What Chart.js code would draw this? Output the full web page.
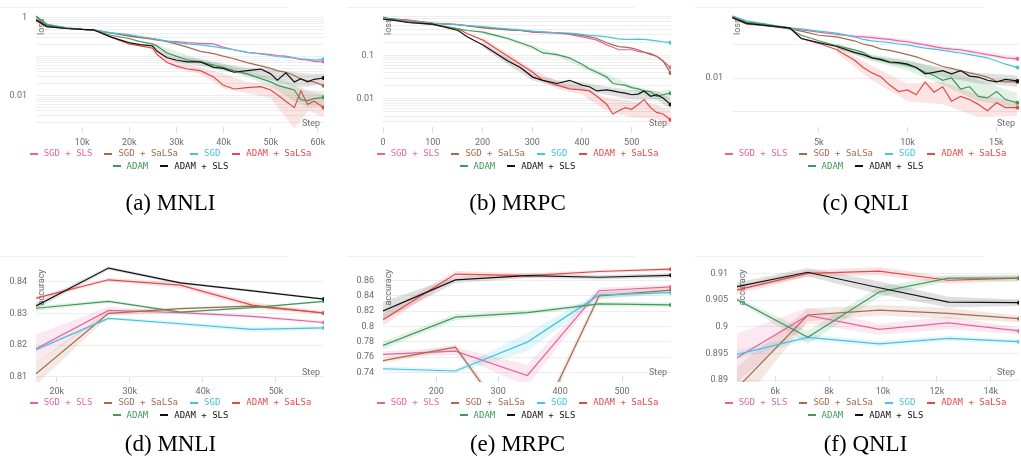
<!DOCTYPE html>
<html>
<head>
<meta charset="utf-8">
<script src="https://cdn.jsdelivr.net/npm/chart.js@4.4.1/dist/chart.umd.min.js"></script>
<style>
  html, body { margin: 0; padding: 0; background: #fff; }
  body { width: 1021px; height: 464px; overflow: hidden; position: relative; }
  .panel { position: absolute; width: 347px; height: 180px; }
  .panel canvas { position: absolute; left: 0; top: 0; }
  .rule { position: absolute; top: 7px; left: 3px; width: 288px; height: 1px; background: #f0f0f0; }
  .legend { position: absolute; top: 147px; left: 18px; width: 311px; display: flex; flex-wrap: wrap;
            justify-content: center; column-gap: 12px; font: 9px "DejaVu Sans Mono", monospace;
            line-height: 12.5px; white-space: nowrap; }
  .legend i { display: inline-block; width: 8px; height: 2px; margin-right: 6px; vertical-align: middle; }
  .caption { position: absolute; width: 347px; text-align: center; font: 23px/23px "Liberation Serif", serif; color: #000; }
</style>
</head>
<body>

<script>
const seriesNames = ['SGD + SLS', 'SGD + SaLSa', 'SGD', 'ADAM + SaLSa', 'ADAM', 'ADAM + SLS'];
const seriesColors = ['#e7649b', '#a8694d', '#45c3e0', '#e34a4a', '#3f9a5a', '#111111'];

// (a) MNLI loss
const aSteps = [200, 2500, 6700, 10000, 12400, 16000, 19900, 22300, 24900, 25900, 28000, 29900, 32300, 35100,
  37900, 39900, 42200, 45000, 47900, 50000, 51400, 53200, 55000, 56400, 57800, 59200, 61200];
const aSgdSls = [1.04, 0.658, 0.534, 0.495, 0.485, 0.401, 0.351, 0.307, 0.274, 0.264, 0.249, 0.240, 0.227, 0.218,
  0.210, 0.174, 0.149, 0.128, 0.119, 0.112, 0.106, 0.102, 0.0909, 0.0843, 0.0811, 0.0752, 0.0738];
const aSgdSalsa = [0.909, 0.621, 0.524, 0.495, 0.476, 0.401, 0.332, 0.307, 0.290, 0.274, 0.240, 0.210, 0.174, 0.136,
  0.119, 0.102, 0.0875, 0.0697, 0.0576, 0.0494, 0.0433, 0.0394, 0.0326, 0.0259, 0.0235, 0.0222, 0.0177];
const aSgd = [1.10, 0.683, 0.544, 0.504, 0.485, 0.409, 0.365, 0.326, 0.290, 0.274, 0.249, 0.227, 0.210, 0.198,
  0.180, 0.164, 0.149, 0.128, 0.116, 0.106, 0.100, 0.0963, 0.0927, 0.0875, 0.0843, 0.0811, 0.0843];
const aAdamSalsa = [0.827, 0.587, 0.524, 0.495, 0.485, 0.319, 0.210, 0.187, 0.164, 0.112, 0.0697, 0.0576, 0.0476, 0.0433,
  0.0296, 0.0184, 0.0146, 0.0158, 0.0167, 0.0138, 0.0104, 0.00710, 0.00485, 0.0131, 0.00587, 0.00710, 0.00485];
const aAdam = [1.08, 0.646, 0.534, 0.495, 0.476, 0.351, 0.290, 0.240, 0.210, 0.187, 0.123, 0.102, 0.0811, 0.0724,
  0.0598, 0.0524, 0.0433, 0.0358, 0.0269, 0.0222, 0.0184, 0.0158, 0.0138, 0.00781, 0.00738, 0.00827, 0.00892];
const aAdamSls = [0.875, 0.587, 0.524, 0.495, 0.485, 0.319, 0.227, 0.202, 0.187, 0.136, 0.0927, 0.0811, 0.0724, 0.0724,
  0.0524, 0.0494, 0.0394, 0.0433, 0.0476, 0.0358, 0.0245, 0.0379, 0.0222, 0.0269, 0.0222, 0.0259, 0.0280];
const aBandSteps = [25000, 30000, 35000, 40000, 45000, 50000, 55000, 58000, 61300];
const aAdamSalsaHi = [0.180, 0.0766, 0.0524, 0.0358, 0.0222, 0.0184, 0.0167, 0.0126, 0.0104];
const aAdamSalsaLo = [0.149, 0.0476, 0.0358, 0.0152, 0.0114, 0.00859, 0.00141, 0.00401, 0.00274];
const aAdamHi = [0.227, 0.136, 0.0843, 0.0658, 0.0433, 0.0296, 0.0184, 0.0138, 0.0126];
const aAdamLo = [0.198, 0.102, 0.0633, 0.0476, 0.0296, 0.0167, 0.0071, 0.00485, 0.00534];
const aAdamSlsHi = [0.210, 0.102, 0.0843, 0.0633, 0.0524, 0.0476, 0.0394, 0.0358, 0.0358];
const aAdamSlsLo = [0.174, 0.0697, 0.0576, 0.0433, 0.0326, 0.0245, 0.0167, 0.0167, 0.0202];
const aTicks = [10000, 20000, 30000, 40000, 50000, 60000];

// (b) MRPC loss
const bSteps = [0, 20, 50, 100, 151, 170, 201, 226, 251, 276, 301, 321, 350, 375, 400, 415, 430, 450, 462, 474,
  487, 500, 513, 525, 538, 550, 563, 578];
const bSgdSls = [0.723, 0.687, 0.653, 0.550, 0.514, 0.489, 0.449, 0.426, 0.398, 0.378, 0.347, 0.336, 0.330, 0.308,
  0.269, 0.247, 0.227, 0.176, 0.156, 0.136, 0.136, 0.136, 0.125, 0.119, 0.105, 0.0966, 0.0748, 0.0532];
const bSgdSalsa = [0.723, 0.699, 0.653, 0.560, 0.514, 0.480, 0.434, 0.412, 0.391, 0.378, 0.353, 0.347, 0.336, 0.319,
  0.293, 0.269, 0.247, 0.198, 0.176, 0.161, 0.156, 0.148, 0.136, 0.119, 0.111, 0.0966, 0.0748, 0.0398];
const bSgd = [0.723, 0.687, 0.631, 0.550, 0.514, 0.489, 0.464, 0.434, 0.412, 0.391, 0.366, 0.353, 0.336, 0.330,
  0.308, 0.293, 0.283, 0.269, 0.256, 0.243, 0.235, 0.235, 0.239, 0.235, 0.227, 0.219, 0.208, 0.198];
const bAdamSalsa = [0.687, 0.653, 0.610, 0.532, 0.412, 0.319, 0.227, 0.148, 0.0966, 0.0631, 0.0412, 0.0269, 0.0208, 0.0170,
  0.0161, 0.0153, 0.0115, 0.00748, 0.00449, 0.00532, 0.00631, 0.00579, 0.00748, 0.00966, 0.00631, 0.00489, 0.00449, 0.00330];
const bAdam = [0.774, 0.687, 0.579, 0.514, 0.412, 0.378, 0.347, 0.293, 0.247, 0.198, 0.156, 0.115, 0.105, 0.0887,
  0.0631, 0.0489, 0.0412, 0.0319, 0.0227, 0.0215, 0.0208, 0.0182, 0.0170, 0.0153, 0.0148, 0.0115, 0.0125, 0.0136];
const bAdamSls = [0.687, 0.653, 0.579, 0.532, 0.378, 0.269, 0.176, 0.115, 0.0748, 0.0532, 0.0319, 0.0269, 0.0227, 0.0269,
  0.0208, 0.0191, 0.0153, 0.0161, 0.0153, 0.0143, 0.0136, 0.0125, 0.0129, 0.0153, 0.0115, 0.0125, 0.0105, 0.00748];
const bBandSteps = [200, 250, 300, 350, 400, 450, 500, 550, 578];
const bAdamSalsaHi = [0.269, 0.115, 0.0489, 0.0256, 0.0191, 0.0105, 0.00887, 0.00748, 0.00532];
const bAdamSalsaLo = [0.191, 0.0787, 0.0336, 0.0170, 0.0125, 0.00532, 0.00378, 0.00347, 0.00227];
const bAdamHi = [0.378, 0.269, 0.176, 0.115, 0.0687, 0.0378, 0.0208, 0.0148, 0.0170];
const bAdamLo = [0.319, 0.227, 0.136, 0.0966, 0.0532, 0.0269, 0.0161, 0.00966, 0.0105];
const bAdamSlsHi = [0.198, 0.0887, 0.0378, 0.0269, 0.0247, 0.0191, 0.0161, 0.0153, 0.0105];
const bAdamSlsLo = [0.156, 0.0631, 0.0269, 0.0191, 0.0161, 0.0125, 0.00966, 0.00966, 0.00579];
const bTicks = [0, 100, 200, 300, 400, 500];

// (c) QNLI loss
const cSteps = [130, 930, 2050, 3360, 4010, 5000, 6010, 7000, 7500, 8000, 8510, 8990, 9500, 10000, 10490, 10990,
  11490, 11980, 12480, 12990, 13490, 13990, 14500, 15020, 15520, 16190];
const cSgdSls = [0.689, 0.474, 0.381, 0.306, 0.268, 0.230, 0.197, 0.173, 0.166, 0.158, 0.148, 0.139, 0.127, 0.119,
  0.107, 0.0957, 0.0858, 0.0769, 0.0720, 0.0689, 0.0617, 0.0553, 0.0496, 0.0444, 0.0398, 0.0373];
const cSgdSalsa = [0.645, 0.444, 0.357, 0.287, 0.246, 0.185, 0.166, 0.127, 0.102, 0.0896, 0.0720, 0.0659, 0.0578, 0.0496,
  0.0425, 0.0341, 0.0274, 0.0220, 0.0193, 0.0166, 0.0142, 0.0125, 0.0107, 0.00803, 0.00769, 0.00769];
const cSgd = [0.689, 0.496, 0.398, 0.306, 0.287, 0.246, 0.215, 0.166, 0.139, 0.127, 0.119, 0.112, 0.102, 0.0957,
  0.0858, 0.0769, 0.0720, 0.0659, 0.0604, 0.0553, 0.0496, 0.0444, 0.0398, 0.0320, 0.0257, 0.0206];
const cAdamSalsa = [0.617, 0.398, 0.357, 0.306, 0.148, 0.107, 0.0689, 0.0341, 0.0206, 0.0142, 0.0107, 0.00617, 0.00398, 0.00444,
  0.00320, 0.00769, 0.00381, 0.00553, 0.00206, 0.00286, 0.00230, 0.00166, 0.00107, 0.00185, 0.00133, 0.00133];
const cAdam = [0.645, 0.444, 0.381, 0.287, 0.185, 0.127, 0.0896, 0.0689, 0.0578, 0.0398, 0.0341, 0.0286, 0.0274, 0.0240,
  0.0206, 0.0148, 0.0119, 0.00858, 0.0100, 0.00474, 0.00553, 0.00286, 0.00257, 0.00398, 0.00230, 0.00185];
const cAdamSls = [0.617, 0.416, 0.357, 0.306, 0.148, 0.112, 0.0858, 0.0578, 0.0496, 0.0398, 0.0357, 0.0299, 0.0286, 0.0257,
  0.0206, 0.0133, 0.0148, 0.0166, 0.0133, 0.0166, 0.0114, 0.0107, 0.00858, 0.00769, 0.00916, 0.00821];
const cBandSteps = [6000, 8000, 10000, 12000, 14000, 16190];
const cSgdSlsHi = [0.215, 0.185, 0.139, 0.0896, 0.0659, 0.0444];
const cSgdSlsLo = [0.181, 0.139, 0.102, 0.0659, 0.0464, 0.0313];
const cAdamSalsaHi = [0.0858, 0.0230, 0.00689, 0.00769, 0.00320, 0.00206];
const cAdamSalsaLo = [0.0553, 0.00858, 0.00206, 0.00166, 0.000689, 0.000769];
const cAdamHi = [0.107, 0.0496, 0.0357, 0.0166, 0.00858, 0.00357];
const cAdamLo = [0.0769, 0.0320, 0.0166, 0.00617, 0.00206, 0.00133];
const cAdamSlsHi = [0.102, 0.0464, 0.0320, 0.0206, 0.0142, 0.0119];
const cAdamSlsLo = [0.0720, 0.0341, 0.0206, 0.0107, 0.00689, 0.00553];
const cTicks = [5000, 10000, 15000];

// (d) MNLI accuracy
const dSteps = [17160, 27080, 36920, 46750, 56570];
const dSgdSls = [0.8189, 0.8310, 0.8303, 0.8291, 0.8272];
const dSgdSalsa = [0.8110, 0.8301, 0.8316, 0.8324, 0.8302];
const dSgd = [0.8186, 0.8285, 0.8268, 0.8250, 0.8255];
const dAdamSalsa = [0.8349, 0.8407, 0.8390, 0.8327, 0.8302];
const dAdam = [0.8317, 0.8339, 0.8305, 0.8319, 0.8339];
const dAdamSls = [0.8324, 0.8444, 0.8397, 0.8372, 0.8346];
const dSgdSlsErr = [0.0045, 0.0012, 0.0005, 0.0005, 0.0005];
const dSgdSalsaErr = [0.0035, 0.0010, 0.0004, 0.0004, 0.0004];
const dSgdErr = [0.0005, 0.0004, 0.0007, 0.0008, 0.0007];
const dAdamSalsaErr = [0.0005, 0.0006, 0.0009, 0.0010, 0.0006];
const dAdamErr = [0.0008, 0.0005, 0.0003, 0.0003, 0.0003];
const dAdamSlsErr = [0.0010, 0.0006, 0.0004, 0.0004, 0.0003];
const dTicks = [20000, 30000, 40000, 50000];
const dYTicks = [0.81, 0.82, 0.83, 0.84];

// (e) MRPC accuracy
const eSteps = [114, 231, 347, 463, 579];
const eSgdSls = [0.7636, 0.7678, 0.7359, 0.8466, 0.8516];
const eSgdSalsa = [0.7552, 0.7728, 0.6420, 0.8400, 0.8474];
const eSgd = [0.7447, 0.7418, 0.7795, 0.8411, 0.8441];
const eAdamSalsa = [0.8088, 0.8684, 0.8663, 0.8717, 0.8747];
const eAdam = [0.7753, 0.8122, 0.8181, 0.8294, 0.8281];
const eAdamSls = [0.8202, 0.8608, 0.8663, 0.8642, 0.8667];
const eSgdSlsErr = [0.004, 0.005, 0.014, 0.004, 0.003];
const eSgdSalsaErr = [0.003, 0.004, 0.008, 0.005, 0.003];
const eSgdErr = [0.003, 0.003, 0.012, 0.004, 0.003];
const eAdamSalsaErr = [0.008, 0.004, 0.003, 0.002, 0.002];
const eAdamErr = [0.005, 0.004, 0.003, 0.003, 0.003];
const eAdamSlsErr = [0.012, 0.004, 0.003, 0.003, 0.003];
const eTicks = [200, 300, 400, 500];
const eYTicks = [0.74, 0.76, 0.78, 0.8, 0.82, 0.84, 0.86];

// (f) QNLI accuracy
const fSteps = [4580, 7210, 9860, 12430, 15050];
const fSgdSls = [0.8942, 0.9021, 0.8995, 0.9007, 0.8992];
const fSgdSalsa = [0.8885, 0.9022, 0.9031, 0.9025, 0.9015];
const fSgd = [0.8948, 0.8980, 0.8968, 0.8978, 0.8972];
const fAdamSalsa = [0.9069, 0.9100, 0.9104, 0.9087, 0.9091];
const fAdam = [0.9051, 0.8980, 0.9065, 0.9091, 0.9091];
const fAdamSls = [0.9075, 0.9102, 0.9073, 0.9046, 0.9045];
const fSgdSlsErr = [0.0045, 0.0015, 0.0010, 0.0012, 0.0006];
const fSgdSalsaErr = [0.0040, 0.0012, 0.0010, 0.0010, 0.0006];
const fSgdErr = [0.0008, 0.0006, 0.0005, 0.0005, 0.0004];
const fAdamSalsaErr = [0.0008, 0.0006, 0.0008, 0.0006, 0.0006];
const fAdamErr = [0.0004, 0.0012, 0.0010, 0.0006, 0.0006];
const fAdamSlsErr = [0.0008, 0.0008, 0.0012, 0.0010, 0.0006];
const fTicks = [6000, 8000, 10000, 12000, 14000];
const fYTicks = [0.89, 0.895, 0.9, 0.905, 0.91];

const lossTicks = {a: [1, 0.01], b: [0.1, 0.01], c: [0.01]};
const captions = {a: '(a) MNLI', b: '(b) MRPC', c: '(c) QNLI', d: '(d) MNLI', e: '(e) MRPC', f: '(f) QNLI'};

Chart.defaults.font.family = 'Roboto';

const pts = (xs, ys) => xs.map((x, i) => ({x, y: ys[i]}));

function lineSet(k, xs, ys) {
  const col = seriesColors[k];
  return {
    label: seriesNames[k], data: pts(xs, ys), borderColor: col, backgroundColor: col,
    borderWidth: 1.2, pointRadius: c => c.dataIndex === xs.length - 1 ? 2 : 0,
    pointBorderWidth: 0, pointHoverRadius: 0, tension: 0, fill: false, order: 5 - k
  };
}
function bandSets(k, xs, lo, hi) {
  const tint = seriesColors[k] === '#111111' ? 'rgba(0,0,0,0.12)' : seriesColors[k] + '26';
  return [
    {data: pts(xs, hi), borderWidth: 0, pointRadius: 0, fill: false, order: 10},
    {data: pts(xs, lo), borderWidth: 0, pointRadius: 0, fill: '-1', backgroundColor: tint, order: 10}
  ];
}
function errSets(k, xs, ys, err) {
  return bandSets(k, xs, ys.map((v, i) => v - err[i]), ys.map((v, i) => v + err[i]));
}

function logKind(v) {
  const e = Math.floor(Math.log10(v) + 1e-9);
  const m = v / Math.pow(10, e);
  if (Math.abs(m - Math.round(m)) > 1e-6) return null;
  const r = Math.round(m);
  return (r === 1 || r === 10) ? 'decade' : 'minor';
}

const axisText = {
  id: 'axisText',
  beforeDatasetsDraw(chart, args, o) {
    const {ctx, chartArea: a} = chart;
    ctx.save();
    ctx.fillStyle = '#707070';
    ctx.font = '9px Roboto';
    ctx.textAlign = 'right';
    ctx.textBaseline = 'middle';
    ctx.fillText('Step', a.right - 4, a.bottom - 9);
    ctx.translate(a.left + 6, a.top + o.dy);
    ctx.rotate(-Math.PI / 2);
    ctx.fillText(o.title, 0, 0);
    ctx.restore();
  }
};

const kFmt = v => v >= 1000 ? (v / 1000) + 'k' : String(v);
const setTicks = vals => s => { s.ticks = vals.map(v => ({value: v})); };

function xScale(min, max, vals) {
  return {
    type: 'linear', min, max, border: {display: false},
    grid: {drawOnChartArea: false, drawTicks: true, tickLength: -6, color: '#dedede'},
    ticks: {autoSkip: false, maxRotation: 0, padding: 10, color: '#6b6b6b', font: {size: 9}, callback: kFmt},
    afterBuildTicks: setTicks(vals),
    afterFit: s => { s.height = 17; }
  };
}
function logScale(min, max, shown, decadesOnly, w) {
  const keep = v => { const k = logKind(v); return k && (!decadesOnly || k === 'decade'); };
  return {
    type: 'logarithmic', min, max, border: {display: false},
    grid: {drawTicks: false, color: c => keep(c.tick.value) ? '#eeeeee' : 'rgba(0,0,0,0)'},
    ticks: {autoSkip: false, padding: 9, color: '#6b6b6b', font: {size: 9},
            callback: v => { const hit = shown.find(s => Math.abs(v - s) / s < 1e-6); return hit !== undefined ? String(hit) : ''; }},
    afterFit: s => { s.width = w; }
  };
}
function linScale(min, max, vals, w) {
  return {
    type: 'linear', min, max, border: {display: false},
    grid: {drawTicks: false, color: '#eeeeee'},
    ticks: {autoSkip: false, padding: 9, color: '#6b6b6b', font: {size: 9},
            callback: v => String(parseFloat(v.toFixed(4)))},
    afterBuildTicks: setTicks(vals),
    afterFit: s => { s.width = w; }
  };
}

const panels = [
  {id: 'a', left: -3, top: 0, title: 'loss', dy: 4,
   x: xScale(200, 61300, aTicks), y: logScale(0.00108, 1.207, lossTicks.a, false, 39),
   datasets: [
     ...bandSets(3, aBandSteps, aAdamSalsaLo, aAdamSalsaHi), ...bandSets(4, aBandSteps, aAdamLo, aAdamHi),
     ...bandSets(5, aBandSteps, aAdamSlsLo, aAdamSlsHi),
     lineSet(0, aSteps, aSgdSls), lineSet(1, aSteps, aSgdSalsa), lineSet(2, aSteps, aSgd),
     lineSet(3, aSteps, aAdamSalsa), lineSet(4, aSteps, aAdam), lineSet(5, aSteps, aAdamSls)]},
  {id: 'b', left: 344, top: 0, title: 'loss', dy: 4,
   x: xScale(0, 579, bTicks), y: logScale(0.00164, 0.889, lossTicks.b, false, 39),
   datasets: [
     ...bandSets(3, bBandSteps, bAdamSalsaLo, bAdamSalsaHi), ...bandSets(4, bBandSteps, bAdamLo, bAdamHi),
     ...bandSets(5, bBandSteps, bAdamSlsLo, bAdamSlsHi),
     lineSet(0, bSteps, bSgdSls), lineSet(1, bSteps, bSgdSalsa), lineSet(2, bSteps, bSgd),
     lineSet(3, bSteps, bAdamSalsa), lineSet(4, bSteps, bAdam), lineSet(5, bSteps, bAdamSls)]},
  {id: 'c', left: 692, top: 0, title: 'loss', dy: 4,
   x: xScale(110, 16280, cTicks), y: logScale(0.000235, 0.769, lossTicks.c, true, 40),
   datasets: [
     ...bandSets(0, cBandSteps, cSgdSlsLo, cSgdSlsHi),
     ...bandSets(3, cBandSteps, cAdamSalsaLo, cAdamSalsaHi), ...bandSets(4, cBandSteps, cAdamLo, cAdamHi),
     ...bandSets(5, cBandSteps, cAdamSlsLo, cAdamSlsHi),
     lineSet(0, cSteps, cSgdSls), lineSet(1, cSteps, cSgdSalsa), lineSet(2, cSteps, cSgd),
     lineSet(3, cSteps, cAdamSalsa), lineSet(4, cSteps, cAdam), lineSet(5, cSteps, cAdamSls)]},
  {id: 'd', left: -3, top: 249, title: 'accuracy', dy: 6,
   x: xScale(17160, 56570, dTicks), y: linScale(0.80838, 0.84588, dYTicks, 39),
   datasets: [
     ...errSets(0, dSteps, dSgdSls, dSgdSlsErr), ...errSets(1, dSteps, dSgdSalsa, dSgdSalsaErr),
     ...errSets(2, dSteps, dSgd, dSgdErr), ...errSets(3, dSteps, dAdamSalsa, dAdamSalsaErr),
     ...errSets(4, dSteps, dAdam, dAdamErr), ...errSets(5, dSteps, dAdamSls, dAdamSlsErr),
     lineSet(0, dSteps, dSgdSls), lineSet(1, dSteps, dSgdSalsa), lineSet(2, dSteps, dSgd),
     lineSet(3, dSteps, dAdamSalsa), lineSet(4, dSteps, dAdam), lineSet(5, dSteps, dAdamSls)]},
  {id: 'e', left: 344, top: 249, title: 'accuracy', dy: 6,
   x: xScale(114, 579, eTicks), y: linScale(0.72741, 0.88229, eYTicks, 39),
   datasets: [
     ...errSets(0, eSteps, eSgdSls, eSgdSlsErr), ...errSets(1, eSteps, eSgdSalsa, eSgdSalsaErr),
     ...errSets(2, eSteps, eSgd, eSgdErr), ...errSets(3, eSteps, eAdamSalsa, eAdamSalsaErr),
     ...errSets(4, eSteps, eAdam, eAdamErr), ...errSets(5, eSteps, eAdamSls, eAdamSlsErr),
     lineSet(0, eSteps, eSgdSls), lineSet(1, eSteps, eSgdSalsa), lineSet(2, eSteps, eSgd),
     lineSet(3, eSteps, eAdamSalsa), lineSet(4, eSteps, eAdam), lineSet(5, eSteps, eAdamSls)]},
  {id: 'f', left: 692, top: 249, title: 'accuracy', dy: 6,
   x: xScale(4580, 15050, fTicks), y: linScale(0.88964, 0.91186, fYTicks, 45),
   datasets: [
     ...errSets(0, fSteps, fSgdSls, fSgdSlsErr), ...errSets(1, fSteps, fSgdSalsa, fSgdSalsaErr),
     ...errSets(2, fSteps, fSgd, fSgdErr), ...errSets(3, fSteps, fAdamSalsa, fAdamSalsaErr),
     ...errSets(4, fSteps, fAdam, fAdamErr), ...errSets(5, fSteps, fAdamSls, fAdamSlsErr),
     lineSet(0, fSteps, fSgdSls), lineSet(1, fSteps, fSgdSalsa), lineSet(2, fSteps, fSgd),
     lineSet(3, fSteps, fAdamSalsa), lineSet(4, fSteps, fAdam), lineSet(5, fSteps, fAdamSls)]}
];

panels.forEach(p => {
  const box = document.createElement('div');
  box.className = 'panel';
  box.style.left = p.left + 'px';
  box.style.top = p.top + 'px';
  box.innerHTML = `<div class="rule"></div><canvas id="cv-${p.id}" width="347" height="150"></canvas>`;
  const leg = document.createElement('div');
  leg.className = 'legend';
  seriesNames.forEach((n, k) => {
    const it = document.createElement('span');
    it.style.color = seriesColors[k];
    it.innerHTML = `<i style="background:${seriesColors[k]}"></i>${n}`;
    leg.appendChild(it);
  });
  box.appendChild(leg);
  document.body.appendChild(box);

  const cap = document.createElement('div');
  cap.className = 'caption';
  cap.style.left = p.left + 'px';
  cap.style.top = (p.top === 0 ? 191 : 432) + 'px';
  cap.textContent = captions[p.id];
  document.body.appendChild(cap);

  new Chart(document.getElementById('cv-' + p.id), {
    type: 'line',
    data: {datasets: p.datasets},
    options: {
      animation: false, responsive: false, events: [],
      layout: {padding: {top: 10, right: 20, left: 0, bottom: 0}},
      plugins: {legend: {display: false}, tooltip: {enabled: false}, axisText: {title: p.title, dy: p.dy}},
      scales: {x: p.x, y: p.y}
    },
    plugins: [axisText]
  });
});
</script>
</body>
</html>
